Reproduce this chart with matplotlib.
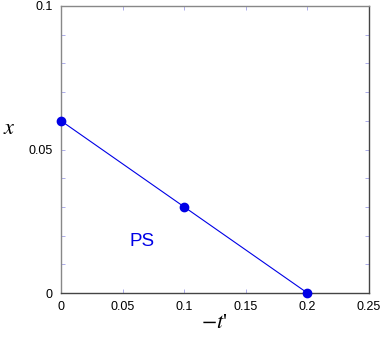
import matplotlib
matplotlib.use('Agg')
import matplotlib.pyplot as plt
from matplotlib.ticker import MultipleLocator

plt.rcParams['mathtext.fontset'] = 'stix'

# 데이터
t_vals = [0, 0.1, 0.2]
x_vals = [0.06, 0.03, 0.0]
x_ticks = [0, 0.05, 0.1, 0.15, 0.2, 0.25]
x_tick_labels = ['0', '0.05', '0.1', '0.15', '0.2', '0.25']
y_ticks = [0, 0.05, 0.1]
y_tick_labels = ['0', '0.05', '0.1']

blue = '#0000e6'

fig = plt.figure(figsize=(3.82, 3.37), dpi=100)
ax = fig.add_axes([61 / 382, 1 - 293 / 337, 308 / 382, 287 / 337])

ax.plot(t_vals, x_vals, color=blue, linewidth=0.8, marker='o',
        markersize=6, markerfacecolor=blue, markeredgecolor=blue, clip_on=False, zorder=5)

ax.text(0.066, 0.0178, 'PS', color=blue, fontsize=13.5, family='Liberation Sans',
        ha='center', va='center')

ax.set_xlim(0, 0.25)
ax.set_ylim(0, 0.1)
ax.set_xticks(x_ticks)
ax.set_xticklabels(x_tick_labels)
ax.set_yticks(y_ticks)
ax.set_yticklabels(y_tick_labels)
ax.yaxis.set_minor_locator(MultipleLocator(0.01))

ax.tick_params(which='both', direction='in', top=True, right=True, length=3,
               width=0.6, color='#a0a0e8', labelsize=9, pad=6)
for lab in ax.get_xticklabels() + ax.get_yticklabels():
    lab.set_family('Liberation Sans')

for side in ['left', 'top']:
    ax.spines[side].set_color('#888888')
for side in ['right', 'bottom']:
    ax.spines[side].set_color('#444444')
for sp in ax.spines.values():
    sp.set_linewidth(1.0)

fig.text(9 / 382, 1 - 128 / 337, r'$x$', fontsize=16,
         ha='center', va='center')
fig.text(214 / 382, 1 - 324 / 337, r"$-t$'", fontsize=16, family='Liberation Serif',
         ha='center', va='center')

fig.savefig('out.png', dpi=100)
